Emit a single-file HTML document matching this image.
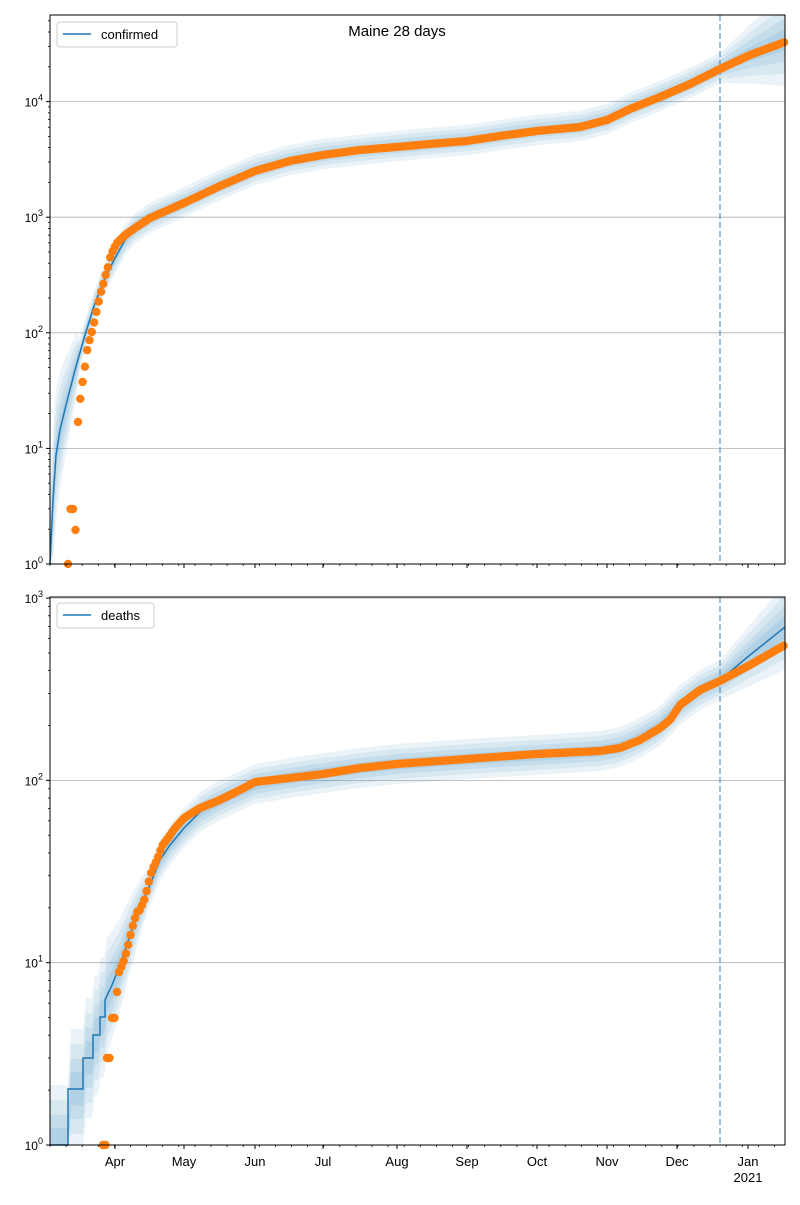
<!DOCTYPE html>
<html><head><style>
body{margin:0;background:#fff;}
svg text{font-family:"Liberation Sans","DejaVu Sans",sans-serif;}
</style></head><body>
<svg id="s" width="800" height="1200" xmlns="http://www.w3.org/2000/svg">
<rect width="800" height="1200" fill="#fff"/>
</svg>
<script>
const S=document.getElementById('s');let h='';
function lerp(pts,x){if(x<=pts[0][0])return pts[0][1];for(let i=1;i<pts.length;i++){if(x<=pts[i][0]){const a=pts[i-1],b=pts[i];return a[1]+(b[1]-a[1])*(x-a[0])/(b[0]-a[0]);}}return pts[pts.length-1][1];}
function axes(y0,y1,dec){
 for(let v=0;v<6;v++){const y=y1-v*dec;if(y>=y0-1&&y<=y1)h+=`<line x1="50" x2="785" y1="${y}" y2="${y}" stroke="#b0b0b0" stroke-width="0.8"/>`;}
}
function frame(y0,y1,dec,labels){
 h+=`<rect x="50" y="${y0}" width="735" height="${y1-y0}" fill="none" stroke="#000" stroke-width="1"/>`;
 for(let v=0;v<6;v++){const y=y1-v*dec;if(y>=y0-1&&y<=y1+0.5){h+=`<line x1="46" x2="50" y1="${y}" y2="${y}" stroke="#000"/>`;h+=`<text x="43" y="${y+5}" font-size="12" text-anchor="end">10<tspan dy="-6" font-size="9">${v}</tspan></text>`;}
  for(let m=2;m<10;m++){const yy=y-Math.log10(m)*dec;if(yy>=y0&&yy<=y1)h+=`<line x1="48" x2="50" y1="${yy}" y2="${yy}" stroke="#000" stroke-width="0.8"/>`;}}
 const months=[115,184,255,323,397,467,537,607,677,748];
 for(let x=50;x<785;x+=16.1)h+=`<line x1="${x}" x2="${x}" y1="${y1}" y2="${y1+2}" stroke="#000" stroke-width="0.8"/>`;
 months.forEach(x=>h+=`<line x1="${x}" x2="${x}" y1="${y1}" y2="${y1+4}" stroke="#000"/>`);
 if(labels){const n=['Apr','May','Jun','Jul','Aug','Sep','Oct','Nov','Dec','Jan'];months.forEach((x,i)=>h+=`<text x="${x}" y="${y1+21}" font-size="13" text-anchor="middle">${n[i]}</text>`);h+=`<text x="748" y="${y1+37}" font-size="13" text-anchor="middle">2021</text>`;}
}
function band(line,wfn,y0,y1,op){let up=[],dn=[];for(let x=50;x<=785;x+=3){const y=lerp(line,x),w=wfn(x);up.push([x,Math.max(y0,y-w)]);dn.push([x,Math.min(y1,y+w)]);}
 h+=`<polygon points="${up.concat(dn.reverse()).map(p=>p.join(',')).join(' ')}" fill="#1f77b4" fill-opacity="${op}"/>`;}
function path(line){return line.map((p,i)=>(i?'L':'M')+p[0]+','+p[1]).join(' ');}
function dot(x,y){h+=`<circle cx="${x.toFixed(1)}" cy="${y.toFixed(1)}" r="4.2" fill="#ff7f0e"/>`;}
function dots(pts,y1){for(let x=pts[0][0];x<=785;x+=2.3){const y=lerp(pts,x);if(y<=y1+1)dot(x,y);}}
// TOP
const T0=15,T1=564,TD=115.6;
axes(T0,T1,TD);
const tl=[[50,564],[53,500],[56,455],[60,430],[66,405],[75,370],[85,335],[95,303],[105,278],[115,258],[125,240],[135,228],[150,218],[184,202],[220,185],[255,170],[290,160],[323,154],[360,150],[397,146],[430,143],[467,140],[500,135],[537,130],[580,126],[607,119],[630,108],[660,96],[690,83],[720,68],[750,54],[785,40]];
const tw=x=>(x<80?40-(x-50)*0.9:x>720?8+(x-720)*0.25:8);
[[1.9,0.09],[1.4,0.09],[0.9,0.1],[0.45,0.1]].forEach(([k,o])=>band(tl,x=>tw(x)*k,T0,T1,o));
h+=`<line x1="720" x2="720" y1="${T0}" y2="${T1}" stroke="#1f77b4" stroke-opacity="0.6" stroke-width="1.5" stroke-dasharray="6,3"/>`;
h+=`<path d="${path(tl)}" fill="none" stroke="#1f77b4" stroke-width="1.5"/>`;
const tp=[[78,422],[80,401],[82,386],[85,366],[87,351],[90,338],[93,328],[95,318],[98,305],[100,295],[103,285],[105,277],[108,267],[110,258],[113,250],[117,243],[125,235],[135,228],[150,218],[184,203],[220,186],[255,171],[290,161],[323,155],[360,150],[397,147],[430,144],[467,141],[500,136],[537,131],[580,127],[607,120],[630,109],[660,97],[690,84],[720,69],[750,55],[785,42]];
dot(68,564);dot(70.5,509);dot(73,509);dot(75.5,530);
dots(tp,T1);
frame(T0,T1,TD,false);
h+=`<text x="397" y="36" font-size="15" text-anchor="middle">Maine 28 days</text>`;
h+=`<rect x="57" y="22" width="120" height="25" rx="3" fill="#fff" fill-opacity="0.8" stroke="#ccc"/><line x1="63" x2="91" y1="34" y2="34" stroke="#1f77b4" stroke-width="1.5"/><text x="101" y="39" font-size="13">confirmed</text>`;
// BOTTOM
const B0=597,B1=1145,BD=182.3;
axes(B0,B1,BD);
const bl=[[50,1145],[68,1145],[68,1089],[83,1089],[83,1058],[93,1058],[93,1035],[100,1035],[100,1017],[105,1017],[105,1000],[112,985],[120,965],[130,935],[140,908],[150,885],[160,860],[170,845],[184,828],[200,812],[220,800],[240,791],[255,784],[290,778],[323,773],[360,768],[397,764],[467,759],[537,755],[600,751],[620,747],[640,738],[660,726],[680,705],[700,690],[720,680],[750,655],[785,627]];
const bw=x=>(x<105?60:x<150?60-(x-105)*0.9:x>720?20+(x-720)*0.35:20);
[[1.0,0.09],[0.75,0.09],[0.5,0.1],[0.28,0.1]].forEach(([k,o])=>band(bl,x=>bw(x)*k,B0,B1,o));
h+=`<line x1="720" x2="720" y1="${B0}" y2="${B1}" stroke="#1f77b4" stroke-opacity="0.6" stroke-width="1.5" stroke-dasharray="6,3"/>`;
h+=`<path d="${path(bl)}" fill="none" stroke="#1f77b4" stroke-width="1.5"/>`;
dot(103,1145);dot(105.5,1145);dot(107,1058);dot(109.5,1058);dot(112,1018);dot(114.5,1018);dot(117,992);
const bp=[[119,972],[123,963],[127,950],[130,937],[133,925],[137,912],[140,910],[145,898],[148,885],[152,870],[157,860],[162,846],[168,838],[175,828],[184,818],[200,808],[220,800],[240,790],[255,782],[290,778],[323,774],[360,768],[397,764],[467,759],[537,754],[600,751],[620,748],[640,740],[660,728],[670,720],[680,705],[700,690],[720,681],[750,665],[785,645]];
dots(bp,B1);
frame(B0,B1,BD,true);
h+=`<rect x="57" y="603" width="97" height="25" rx="3" fill="#fff" fill-opacity="0.8" stroke="#ccc"/><line x1="63" x2="91" y1="615" y2="615" stroke="#1f77b4" stroke-width="1.5"/><text x="101" y="620" font-size="13">deaths</text>`;
S.innerHTML+=h;
</script>
</body></html>
